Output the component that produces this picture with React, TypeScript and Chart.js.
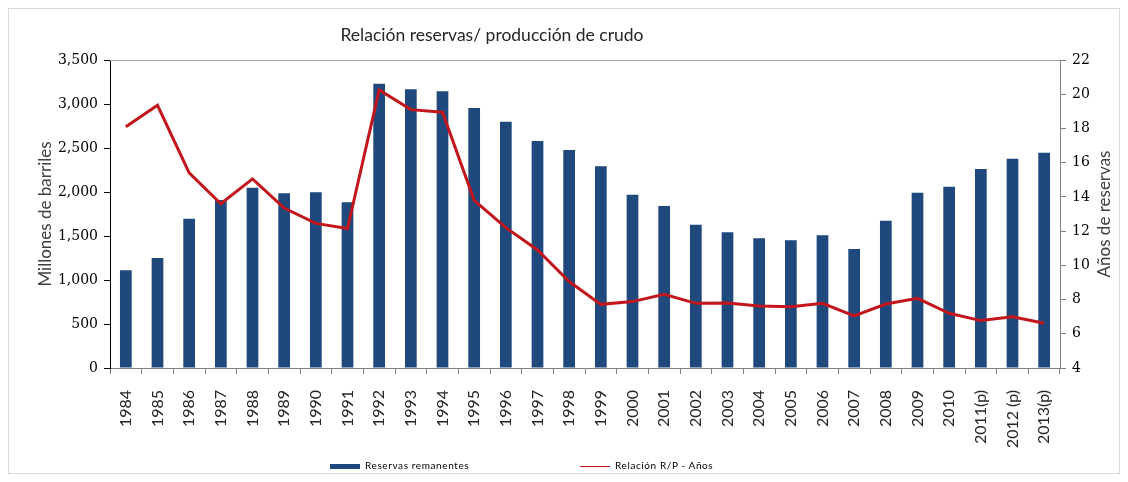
import React, { useEffect, useRef } from "react";
import { Chart, registerables } from "chart.js";

Chart.register(...registerables);

const years = [
  "1984", "1985", "1986", "1987", "1988", "1989", "1990", "1991", "1992", "1993",
  "1994", "1995", "1996", "1997", "1998", "1999", "2000", "2001", "2002", "2003",
  "2004", "2005", "2006", "2007", "2008", "2009", "2010", "2011(p)", "2012 (p)", "2013(p)",
];

const reservasRemanentes = [
  1110, 1250, 1697, 1909, 2049, 1985, 1996, 1883, 3231, 3167,
  3144, 2955, 2799, 2580, 2477, 2292, 1970, 1841, 1629, 1542,
  1474, 1451, 1508, 1352, 1674, 1992, 2060, 2261, 2378, 2447,
];

const relacionRP = [
  18.1, 19.35, 15.4, 13.6, 15.05, 13.35, 12.45, 12.15, 20.25, 19.1,
  18.95, 13.8, 12.2, 10.9, 9.05, 7.72, 7.88, 8.31, 7.78, 7.8,
  7.62, 7.58, 7.78, 7.04, 7.74, 8.07, 7.2, 6.77, 7.0, 6.61,
];

const leftTicks = { min: 0, max: 3500, step: 500 };
const rightTicks = { min: 4, max: 22, step: 2 };

const BAR_COLOR = "#1F497D";
const LINE_COLOR = "#C3161C";
const SANS = "Lato, 'Open Sans', sans-serif";
const SERIF = "'DejaVu Serif', serif";

const framePlugin = {
  id: "frame",
  beforeDatasetsDraw(chart: any) {
    const { ctx, chartArea } = chart;
    ctx.save();
    ctx.strokeStyle = "#A6A6A6";
    ctx.lineWidth = 1;
    ctx.beginPath();
    ctx.moveTo(chartArea.left, chartArea.top + 0.5);
    ctx.lineTo(chartArea.right, chartArea.top + 0.5);
    ctx.stroke();
    ctx.restore();
  },
  afterDraw(chart: any) {
    const { ctx, chartArea } = chart;
    const s = chart.scales.y1;
    ctx.save();
    ctx.fillStyle = "#404040";
    ctx.font = `17px ${SANS}`;
    ctx.textAlign = "center";
    ctx.textBaseline = "middle";
    ctx.translate(s.right - 14, (chartArea.top + chartArea.bottom) / 2);
    ctx.rotate(-Math.PI / 2);
    ctx.fillText("Años de reservas", 0, 0);
    ctx.restore();
  },
};

export default function App() {
  const ref = useRef<HTMLCanvasElement | null>(null);

  useEffect(() => {
    if (!ref.current) return;
    const chart = new Chart(ref.current, {
      type: "bar",
      data: {
        labels: years,
        datasets: [
          {
            type: "line",
            label: "Relación R/P - Años",
            data: relacionRP,
            yAxisID: "y1",
            borderColor: LINE_COLOR,
            backgroundColor: LINE_COLOR,
            borderWidth: 3,
            pointRadius: 0,
            tension: 0,
            order: 0,
          } as any,
          {
            type: "bar",
            label: "Reservas remanentes",
            data: reservasRemanentes,
            yAxisID: "y",
            backgroundColor: BAR_COLOR,
            categoryPercentage: 1,
            barPercentage: 0.37,
            order: 1,
          },
        ],
      },
      options: {
        animation: false,
        responsive: false,
        maintainAspectRatio: false,
        layout: { padding: { top: 51, left: 0, right: 0, bottom: 0 } },
        plugins: {
          legend: { display: false },
          title: { display: false },
          tooltip: { enabled: false },
        },
        scales: {
          x: {
            grid: {
              display: true,
              drawOnChartArea: false,
              offset: true,
              tickLength: 6,
              color: "#808080",
            },
            border: { color: "#808080" },
            ticks: {
              autoSkip: false,
              minRotation: 90,
              maxRotation: 90,
              color: "#262626",
              padding: 16,
              font: { family: SANS, size: 16 },
            },
            afterFit(s: any) {
              s.height = 105;
            },
          },
          y: {
            position: "left",
            min: leftTicks.min,
            max: leftTicks.max,
            ticks: {
              stepSize: leftTicks.step,
              color: "#000",
              padding: 6,
              font: { family: SERIF, size: 14 },
              callback: (v: any) => Number(v).toLocaleString("en-US"),
            },
            grid: { drawOnChartArea: false, tickLength: 6, color: "#000" },
            border: { color: "#000" },
            title: {
              display: true,
              text: "Millones de barriles",
              color: "#404040",
              font: { family: SANS, size: 17 },
              padding: { top: 26, bottom: 0 },
            },
            afterFit(s: any) {
              s.width = 101;
            },
          },
          y1: {
            position: "right",
            min: rightTicks.min,
            max: rightTicks.max,
            ticks: {
              stepSize: rightTicks.step,
              color: "#000",
              padding: 6,
              font: { family: SERIF, size: 14 },
            },
            grid: { drawOnChartArea: false, tickLength: 6, color: "#808080" },
            border: { color: "#808080" },
            afterFit(s: any) {
              s.width = 59;
            },
          },
        },
      },
      plugins: [framePlugin],
    });
    return () => chart.destroy();
  }, []);

  return (
    <div
      style={{
        position: "relative",
        width: 1112,
        height: 466,
        border: "1px solid #D9D9D9",
        boxSizing: "border-box",
        fontFamily: SANS,
      }}
    >
      <canvas
        ref={ref}
        width={1110}
        height={464}
        style={{ position: "absolute", left: 0, top: 0, width: 1110, height: 464 }}
      />
      <div
        style={{
          position: "absolute",
          left: 0,
          top: 15,
          width: 966,
          textAlign: "center",
          fontSize: 17.5,
          color: "#262626",
          whiteSpace: "nowrap",
        }}
      >
        Relación reservas/ producción de crudo
      </div>
      <div style={{ position: "absolute", left: 321, top: 455, width: 30, height: 5, background: BAR_COLOR }} />
      <div style={{ position: "absolute", left: 356, top: 450, fontSize: 10, letterSpacing: 0.6, color: "#000", whiteSpace: "nowrap" }}>
        Reservas remanentes
      </div>
      <div style={{ position: "absolute", left: 571, top: 457, width: 30, height: 1, background: LINE_COLOR }} />
      <div style={{ position: "absolute", left: 606, top: 450, fontSize: 10, letterSpacing: 0.6, color: "#000", whiteSpace: "nowrap" }}>
        Relación R/P - Años
      </div>
    </div>
  );
}
